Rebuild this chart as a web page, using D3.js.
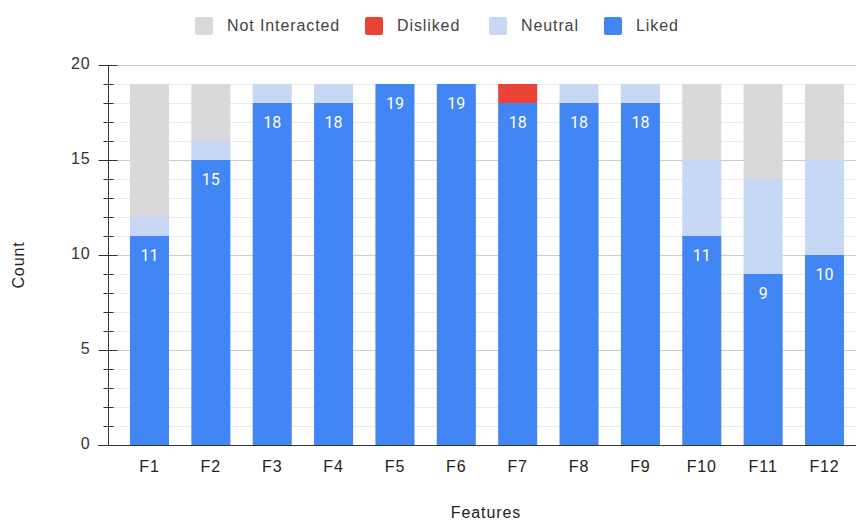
<!DOCTYPE html>
<html>
<head>
<meta charset="utf-8">
<script src="https://cdn.jsdelivr.net/npm/d3@7"></script>
<style>
  body { margin: 0; background: #fff; }
  text { font-family: "Liberation Sans", Arial, sans-serif; }
  text.lbl { letter-spacing: 0.9px; }
</style>
</head>
<body>
<div id="canvas"></div>
<script>
"use strict"

/* Data */
let features = ["F1", "F2", "F3", "F4", "F5", "F6", "F7", "F8", "F9", "F10", "F11", "F12"];
let liked = [11, 15, 18, 18, 19, 19, 18, 18, 18, 11, 9, 10];
let neutral = [1, 1, 1, 1, 0, 0, 0, 1, 1, 4, 5, 5];
let disliked = [0, 0, 0, 0, 0, 0, 1, 0, 0, 0, 0, 0];
let notInteracted = [7, 3, 0, 0, 0, 0, 0, 0, 0, 4, 5, 4];
let seriesNames = ["Liked", "Neutral", "Disliked", "Not Interacted"];
let legendOrder = ["Not Interacted", "Disliked", "Neutral", "Liked"];
let yTicks = [0, 5, 10, 15, 20];

/* Drawing config */
let svgWidth = 856;
let svgHeight = 521;
let plotLeft = 108, plotRight = 856, plotTop = 65, plotBottom = 445;
let colors = {
    "Liked": "#4285f4",
    "Neutral": "#c6d8f6",
    "Disliked": "#ea4335",
    "Not Interacted": "#d9d9d9"
};

let table = features.map(function (f, i) {
    return { feature: f, "Liked": liked[i], "Neutral": neutral[i],
             "Disliked": disliked[i], "Not Interacted": notInteracted[i] };
});

let svg = d3.select("#canvas")
    .append("svg")
    .attr("width", svgWidth)
    .attr("height", svgHeight);

let x = d3.scaleBand()
    .domain(features)
    .range([118.8, 855.2])
    .paddingInner(0.364)
    .paddingOuter(0.182);

let y = d3.scaleLinear()
    .domain([0, 20])
    .range([plotBottom, plotTop]);

/* Gridlines: minor every 1, major every 5 */
let gridVals = d3.range(0, 21);
svg.append("g")
    .selectAll("line")
    .data(gridVals)
    .join("line")
    .attr("x1", plotLeft)
    .attr("x2", plotRight)
    .attr("y1", d => Math.round(y(d)) + 0.5)
    .attr("y2", d => Math.round(y(d)) + 0.5)
    .attr("stroke", d => d % 5 === 0 ? "#cccccc" : "#ebebeb")
    .attr("stroke-width", 1);

/* Stacked bars */
let stacked = d3.stack().keys(seriesNames)(table);
svg.append("g")
    .selectAll("g")
    .data(stacked)
    .join("g")
    .attr("fill", d => colors[d.key])
    .selectAll("rect")
    .data(d => d.filter(s => s[1] > s[0]))
    .join("rect")
    .attr("x", d => x(d.data.feature))
    .attr("width", x.bandwidth())
    .attr("y", d => y(d[1]))
    .attr("height", d => y(d[0]) - y(d[1]));

/* Value labels inside the Liked segment */
svg.append("g")
    .selectAll("text")
    .data(table)
    .join("text")
    .attr("x", d => x(d.feature) + x.bandwidth() / 2)
    .attr("y", d => y(d["Liked"]) + 21)
    .attr("text-anchor", "middle")
    .attr("dominant-baseline", "middle")
    .attr("fill", "#ffffff")
    .style("font-family", "Roboto, sans-serif")
    .style("font-size", "16px")
    .text(d => d["Liked"]);

/* Y axis with minor ticks */
let yAxis = svg.append("g")
    .attr("transform", "translate(" + (plotLeft + 0.5) + ",0)");
yAxis.append("line")
    .attr("y1", plotTop)
    .attr("y2", plotBottom)
    .attr("stroke", "#333");
yAxis.selectAll("line.tick")
    .data(gridVals)
    .join("line")
    .attr("class", "tick")
    .attr("x1", d => d % 5 === 0 ? -10 : -5)
    .attr("x2", d => d % 5 === 0 ? 9 : 5)
    .attr("y1", d => Math.round(y(d)) + 0.5)
    .attr("y2", d => Math.round(y(d)) + 0.5)
    .attr("stroke", "#333");
yAxis.selectAll("text")
    .data(yTicks)
    .join("text")
    .attr("class", "lbl")
    .attr("x", -18)
    .attr("y", d => y(d))
    .attr("text-anchor", "end")
    .attr("dominant-baseline", "middle")
    .attr("fill", "#333")
    .style("font-size", "16px")
    .text(d => d);

/* X axis */
svg.append("line")
    .attr("x1", plotLeft - 10)
    .attr("x2", plotRight)
    .attr("y1", plotBottom + 0.5)
    .attr("y2", plotBottom + 0.5)
    .attr("stroke", "#333");

let xAxis = d3.axisBottom(x).tickSize(0).tickPadding(16);
let xg = svg.append("g")
    .attr("transform", "translate(0," + plotBottom + ")")
    .call(xAxis);
xg.select(".domain").remove();
xg.selectAll("text")
    .attr("class", "lbl")
    .attr("fill", "#222")
    .style("font-size", "16px")
    .style("font-family", "'Liberation Sans', Arial, sans-serif");

/* Axis titles */
svg.append("text")
    .attr("class", "lbl")
    .attr("x", 486)
    .attr("y", 514)
    .attr("text-anchor", "middle")
    .attr("dominant-baseline", "middle")
    .attr("fill", "#222")
    .style("font-size", "16px")
    .text("Features");

svg.append("text")
    .attr("class", "lbl")
    .attr("transform", "translate(20,265) rotate(-90)")
    .attr("text-anchor", "middle")
    .attr("dominant-baseline", "middle")
    .attr("fill", "#222")
    .style("font-size", "16px")
    .text("Count");

/* Legend */
let legendX = [195, 365, 489, 604];
let legend = svg.append("g")
    .selectAll("g")
    .data(legendOrder)
    .join("g")
    .attr("transform", (d, i) => "translate(" + legendX[i] + ",17)");
legend.append("rect")
    .attr("width", 18)
    .attr("height", 18)
    .attr("rx", 2)
    .attr("fill", d => colors[d]);
legend.append("text")
    .attr("class", "lbl")
    .attr("x", 32)
    .attr("y", 10)
    .attr("dominant-baseline", "middle")
    .attr("fill", "#444")
    .style("font-size", "16px")
    .text(d => d);
</script>
</body>
</html>
